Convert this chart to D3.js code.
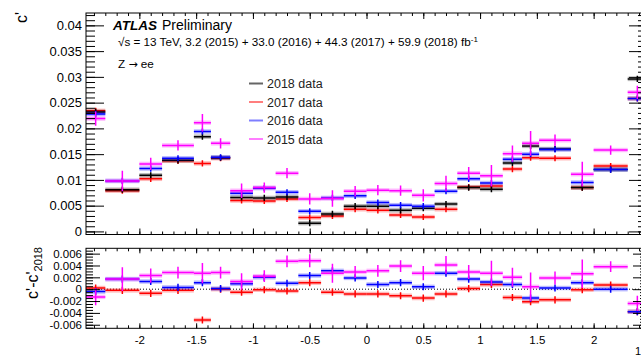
<!DOCTYPE html>
<html>
<head>
<meta charset="utf-8">
<script src="https://cdn.jsdelivr.net/npm/d3@7"></script>
<style>
  body { margin: 0; background: #fff; }
  svg { display: block; font-family: "Liberation Sans", Arial, Helvetica, sans-serif; }
</style>
</head>
<body>
<div class="canvas"></div>
<script>
// eta bin edges
const edges = [-2.47, -2.3, -2.0, -1.8, -1.52, -1.37, -1.2, -1.0, -0.8, -0.6, -0.4, -0.2, 0,
  0.2, 0.4, 0.6, 0.8, 1.0, 1.2, 1.37, 1.52, 1.8, 2.0, 2.3, 2.47];

// c' per year (top panel)
const c2018 = [0.0232, 0.0081, 0.0109, 0.0138, 0.0184, 0.0143, 0.0066, 0.0065, 0.0067, 0.0016, 0.0034, 0.0049,
  0.0049, 0.0041, 0.0045, 0.0053, 0.0085, 0.0082, 0.0133, 0.0166, 0.0160, 0.0085, 0.0120, 0.0296];
const c2017 = [0.0234, 0.0079, 0.0102, 0.0137, 0.0132, 0.0142, 0.0060, 0.0059, 0.0063, 0.0027, 0.0030, 0.0043,
  0.0041, 0.0032, 0.0028, 0.0043, 0.0086, 0.0088, 0.0121, 0.0143, 0.0142, 0.0085, 0.0127, 0.0258];
const c2016 = [0.0228, 0.0098, 0.0122, 0.0142, 0.0194, 0.0144, 0.0074, 0.0084, 0.0076, 0.0039, 0.0065, 0.0069,
  0.0056, 0.0051, 0.0049, 0.0078, 0.0102, 0.0094, 0.0140, 0.0150, 0.0159, 0.0095, 0.0120, 0.0258];
const c2015 = [0.0219, 0.0098, 0.0131, 0.0167, 0.0211, 0.0171, 0.0079, 0.0085, 0.0113, 0.0063, 0.0064, 0.0078,
  0.0080, 0.0079, 0.0070, 0.0093, 0.0113, 0.0108, 0.0151, 0.0171, 0.0177, 0.0111, 0.0158, 0.0270];

// c' - c'(2018) (bottom panel)
const d2017 = [0.0002, -0.0002, -0.0007, -0.0002, -0.0052, 0.0000, -0.0005, -0.0001, -0.0003, 0.0011, -0.0005, -0.0008,
  -0.0008, -0.0011, -0.0015, -0.0008, 0.0001, 0.0008, -0.0014, -0.0021, -0.0018, -0.0001, 0.0007, -0.0038];
const d2016 = [-0.0004, 0.0017, 0.0013, 0.0003, 0.0011, 0.0001, 0.0009, 0.0020, 0.0010, 0.0023, 0.0031, 0.0019,
  0.0008, 0.0011, 0.0004, 0.0027, 0.0017, 0.0012, 0.0008, -0.0015, 0.0002, 0.0011, 0.0000, -0.0038];
const d2015 = [-0.0013, 0.0017, 0.0023, 0.0028, 0.0027, 0.0028, 0.0013, 0.0022, 0.0047, 0.0048, 0.0027, 0.0029,
  0.0031, 0.0039, 0.0027, 0.0041, 0.0029, 0.0027, 0.0020, 0.0004, 0.0019, 0.0026, 0.0038, -0.0024];

// vertical error bars (half size)
const err2015 = [0.0014, 0.0020, 0.0012, 0.0010, 0.0017, 0.0010, 0.0014, 0.0010, 0.0010, 0.0011, 0.0016, 0.0010,
  0.0010, 0.0010, 0.0012, 0.0015, 0.0012, 0.0021, 0.0016, 0.0024, 0.0011, 0.0024, 0.0009, 0.0013];
const errOther = 0.0006;

const legendLabels = ["2018 data", "2017 data", "2016 data", "2015 data"];
const xTicks = [-2, -1.5, -1, -0.5, 0, 0.5, 1, 1.5, 2];
const yTopTicks = [0, 0.005, 0.01, 0.015, 0.02, 0.025, 0.03, 0.035, 0.04];
const yBotTicks = [-0.006, -0.004, -0.002, 0, 0.002, 0.004, 0.006];

const w = 641, h = 361;
const left = 86, right = 647;
const top1 = 13, bot1 = 234.5;
const top2 = 248.3, bot2 = 328.3;

const svg = d3.select(".canvas").append("svg").attr("width", w).attr("height", h);

const x = d3.scaleLinear().domain([-2.47, 2.47]).range([left, right]);
const yTop = d3.scaleLinear().domain([-0.0006, 0.0424]).range([bot1, top1]);
const yBot = d3.scaleLinear().domain([-0.0066, 0.0069]).range([bot2, top2]);

const bins = d3.range(edges.length - 1).map((i) => ({ i, x0: edges[i], x1: edges[i + 1] }));

// series in draw order (2017 first, 2015 on top)
const topSeries = [
  { vals: c2017, err: () => errOther, color: "#ff0000" },
  { vals: c2018, err: () => errOther, color: "#000000" },
  { vals: c2016, err: () => errOther, color: "#0000ff" },
  { vals: c2015, err: (i) => err2015[i], color: "#ff00ff" },
];
const botSeries = [
  { vals: d2017, err: () => errOther, color: "#ff0000" },
  { vals: d2016, err: () => errOther, color: "#0000ff" },
  { vals: d2015, err: (i) => err2015[i], color: "#ff00ff" },
];

// clip paths
const defs = svg.append("defs");
defs.append("clipPath").attr("id", "clipTop").append("rect")
  .attr("x", left).attr("y", top1).attr("width", right - left).attr("height", bot1 - top1);
defs.append("clipPath").attr("id", "clipBot").append("rect")
  .attr("x", left).attr("y", top2).attr("width", right - left).attr("height", bot2 - top2);

function drawSeries(g, series, y) {
  series.forEach((s) => {
    const sg = g.append("g");
    sg.selectAll("rect.band").data(bins).enter().append("rect")
      .attr("x", (d) => x(d.x0)).attr("width", (d) => x(d.x1) - x(d.x0))
      .attr("y", (d) => y(s.vals[d.i]) - 2.2).attr("height", 4.4)
      .attr("fill", s.color).attr("opacity", 0.28);
    sg.selectAll("line.h").data(bins).enter().append("line")
      .attr("x1", (d) => x(d.x0)).attr("x2", (d) => x(d.x1))
      .attr("y1", (d) => y(s.vals[d.i])).attr("y2", (d) => y(s.vals[d.i]))
      .attr("stroke", s.color).attr("stroke-width", 1.5);
    sg.selectAll("line.v").data(bins).enter().append("line")
      .attr("x1", (d) => x((d.x0 + d.x1) / 2)).attr("x2", (d) => x((d.x0 + d.x1) / 2))
      .attr("y1", (d) => y(s.vals[d.i] - s.err(d.i))).attr("y2", (d) => y(s.vals[d.i] + s.err(d.i)))
      .attr("stroke", s.color).attr("stroke-width", 1.5);
  });
}

// zero line in the ratio panel
svg.append("line")
  .attr("x1", left).attr("x2", right).attr("y1", yBot(0)).attr("y2", yBot(0))
  .attr("stroke", "#000").attr("stroke-width", 1).attr("stroke-dasharray", "1,2");

drawSeries(svg.append("g").attr("clip-path", "url(#clipTop)"), topSeries, yTop);
drawSeries(svg.append("g").attr("clip-path", "url(#clipBot)"), botSeries, yBot);

// axes helpers
const xMinor = d3.range(-24, 25).map((k) => k / 10).filter((v) => Math.abs(v) <= 2.47);
function xAxes(yPos, dir, major, minor, labels) {
  const gen = dir === "bottom" ? d3.axisBottom : d3.axisTop;
  const gMin = svg.append("g").attr("transform", `translate(0,${yPos})`)
    .call(gen(x).tickValues(xMinor).tickSize(-minor).tickFormat(""));
  const gMaj = svg.append("g").attr("transform", `translate(0,${yPos})`)
    .call(gen(x).tickValues(xTicks).tickSize(-major).tickPadding(labels ? 8 : 0)
      .tickFormat(labels ? (d) => String(d) : ""));
  [gMin, gMaj].forEach((g) => { g.select(".domain").remove(); g.selectAll("line").attr("stroke", "#000"); });
  return gMaj;
}

function yAxes(y, ticks, step, major, minor, fmt, fs) {
  const [lo, hi] = y.domain();
  const minorVals = d3.range(Math.ceil(lo / step - 1e-6), Math.floor(hi / step + 1e-6) + 1).map((k) => k * step);
  [[left, d3.axisLeft], [right, d3.axisRight]].forEach(([xp, gen], side) => {
    const gMin = svg.append("g").attr("transform", `translate(${xp},0)`)
      .call(gen(y).tickValues(minorVals).tickSize(-minor).tickFormat(""));
    const gMaj = svg.append("g").attr("transform", `translate(${xp},0)`)
      .call(gen(y).tickValues(ticks).tickSize(-major).tickPadding(4)
        .tickFormat(side === 0 ? fmt : ""));
    [gMin, gMaj].forEach((g) => { g.select(".domain").remove(); g.selectAll("line").attr("stroke", "#000"); });
    gMaj.selectAll("text").attr("font-size", fs).attr("fill", "#000").attr("font-family", null);
  });
}

const fmtNum = (d) => (Math.abs(d) < 1e-9 ? "0" : String(+d.toFixed(3)));

// top panel axes
xAxes(bot1, "bottom", 6, 3, false);
xAxes(top1, "top", 6, 3, false);
yAxes(yTop, yTopTicks, 0.001, 18, 9, fmtNum, "13px");

// bottom panel axes
const xl = xAxes(bot2, "bottom", 5, 3, true);
xl.selectAll("text").attr("font-size", "11.5px").attr("fill", "#000").attr("font-family", null);
xAxes(top2, "top", 5, 3, false);
yAxes(yBot, yBotTicks, 0.0005, 14, 7, fmtNum, "11.5px");

// frames
[[top1, bot1], [top2, bot2]].forEach(([t, b]) => {
  svg.append("rect").attr("x", left).attr("y", t).attr("width", right - left).attr("height", b - t)
    .attr("fill", "none").attr("stroke", "#000").attr("stroke-width", 1);
});

// axis titles
svg.append("text").attr("transform", "translate(27,12) rotate(-90)")
  .attr("text-anchor", "end").attr("font-size", "16px").text("c'");
const bt = svg.append("text").attr("transform", "translate(38,247) rotate(-90)")
  .attr("text-anchor", "end").attr("font-size", "16px");
bt.append("tspan").text("c'-c'");
bt.append("tspan").attr("font-size", "11px").attr("dy", 4).text("2018");

// labels
const lab = svg.append("g");
lab.append("text").attr("x", 113).attr("y", 30).attr("font-size", "13.5px")
  .attr("font-weight", "bold").attr("font-style", "italic").text("ATLAS");
lab.append("text").attr("x", 162).attr("y", 30).attr("font-size", "14px").text("Preliminary");
const lumi = lab.append("text").attr("x", 118).attr("y", 46).attr("font-size", "11.7px");
lumi.append("tspan").text("\u221As = 13 TeV, 3.2 (2015) + 33.0 (2016) + 44.3 (2017) + 59.9 (2018)  fb");
lumi.append("tspan").attr("font-size", "8px").attr("dy", -4).text("-1");
const zee = lab.append("text").attr("x", 118).attr("y", 68).attr("font-size", "11.7px");
zee.append("tspan").text("Z ");
zee.append("tspan").attr("font-family", "DejaVu Sans").attr("font-size", "11px").text("\u2192");
zee.append("tspan").text(" ee");

// legend
const legColors = ["#000000", "#ff0000", "#0000ff", "#ff00ff"];
const leg = svg.append("g");
legendLabels.forEach((t, i) => {
  const yb = 88 + i * 18.5;
  leg.append("line").attr("x1", 249).attr("x2", 263).attr("y1", yb - 4.5).attr("y2", yb - 4.5)
    .attr("stroke", legColors[i]).attr("stroke-width", 2).attr("opacity", i === 0 ? 0.6 : 0.5);
  leg.append("text").attr("x", 267).attr("y", yb).attr("font-size", "12.5px").attr("fill", "#222").text(t);
});

// clipped axis-title fragment at the lower right
svg.append("text").attr("x", 635).attr("y", 355).attr("font-size", "11px").text("1");
</script>
</body>
</html>
